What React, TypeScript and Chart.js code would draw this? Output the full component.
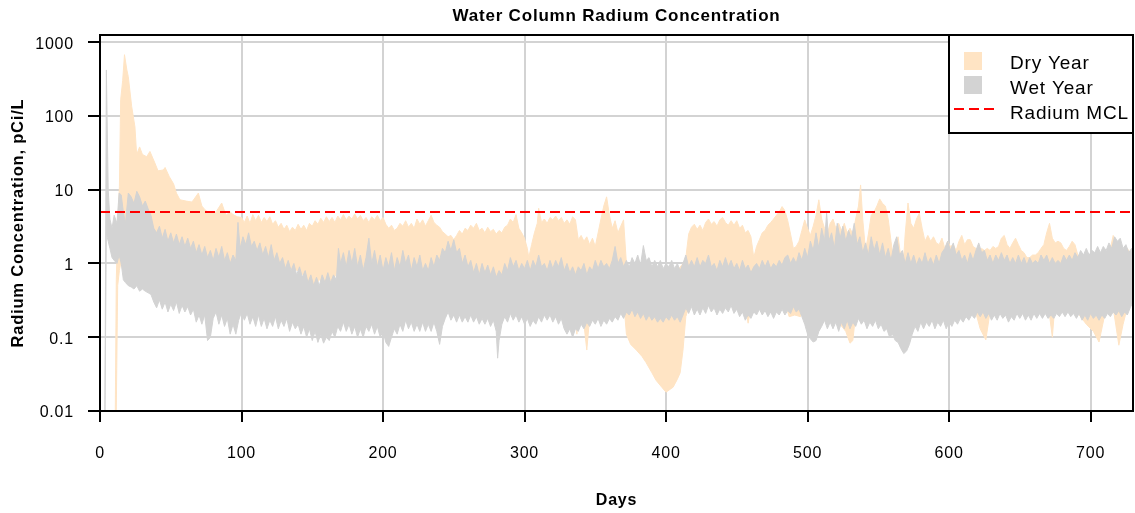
import React, { useEffect, useRef } from "react";
import { Chart, registerables } from "chart.js";

Chart.register(...registerables);

// ---------- text ----------
const TITLE = "Water Column Radium Concentration";
const X_TITLE = "Days";
const Y_TITLE = "Radium Concentration, pCi/L";
const legendLabels = ["Dry Year", "Wet Year", "Radium MCL"];

// ---------- axes ----------
const xTicks = [0, 100, 200, 300, 400, 500, 600, 700];
const yTicks = [0.01, 0.1, 1, 10, 100, 1000];
const yTickLabels = ["0.01", "0.1", "1", "10", "100", "1000"];
const X_MIN = 0;
const X_MAX = 730;
const Y_MIN = 0.01;
const Y_MAX = 1250;
const MCL = 5;

// ---------- Wet year: upper edge ----------
const wetHighDays = [
  3.5, 4.5, 5.8, 7, 8.5, 10, 12, 13.5, 15, 16.5,
  18, 20, 22, 24, 26, 28, 30, 32, 34, 36,
  38, 40, 42, 44, 46, 48, 50, 52, 54, 56,
  58, 60, 62, 64, 66, 68, 70, 72, 74, 76,
  78, 80, 82, 84, 86, 88, 90, 92, 94, 96,
  97.5, 99, 101, 103, 105, 107, 109, 111, 113, 115,
  117, 119, 121, 123, 125, 127, 129, 131, 133, 135,
  137, 139, 141, 143, 145, 147, 149, 151, 153, 155,
  157, 159, 161, 163, 165, 167, 168.5, 170, 172, 174,
  176, 178, 180, 182, 184, 186, 188, 190, 192, 194,
  196, 198, 200, 202, 204, 206, 208, 210, 212, 214,
  216, 218, 220, 222, 224, 226, 228, 230, 232, 234,
  236, 238, 240, 242, 244, 246, 248, 250, 252, 254,
  256, 258, 260, 262, 264, 266, 268, 270, 272, 274,
  276, 278, 280, 282, 284, 286, 288, 290, 292, 294,
  296, 298, 300, 302, 304, 306, 308, 310, 312, 314,
  316, 318, 320, 322, 324, 326, 328, 330, 332, 334,
  336, 338, 340, 342, 344, 346, 348, 350, 352, 354,
  356, 358, 360, 362, 364, 366, 368, 370, 372, 374,
  376, 378, 380, 382, 384, 386, 388, 390, 392, 394,
  396, 398, 400, 402, 404, 406, 408, 410, 412, 414,
  416, 418, 420, 422, 424, 426, 428, 430, 432, 434,
  436, 438, 440, 442, 444, 446, 448, 450, 452, 454,
  456, 458, 460, 462, 464, 466, 468, 470, 472, 474,
  476, 478, 480, 482, 484, 486, 488, 490, 492, 494,
  496, 498, 500, 502, 504, 506, 508, 510, 512, 513.5,
  515, 517, 519, 521, 523, 525, 527, 529, 531, 533,
  535, 537, 539, 541, 543, 545, 547, 549, 551, 553,
  555, 557, 559, 561, 563, 565, 567, 569, 571, 573,
  575, 577, 579, 581, 583, 585, 587, 589, 591, 593,
  595, 597, 599, 601, 603, 605, 607, 609, 611, 613,
  615, 617, 619, 621, 623, 625, 627, 629, 631, 633,
  635, 637, 639, 641, 643, 645, 647, 649, 651, 653,
  655, 657, 659, 661, 663, 665, 667, 669, 671, 673,
  675, 677, 679, 681, 683, 685, 687, 689, 691, 693,
  695, 697, 699, 701, 703, 705, 707, 709, 711, 713,
  715, 717, 719, 721, 723, 725, 727, 729, 730,
];
const wetHigh = [
  0.01, 420, 10, 4.0, 3.0, 4.5, 3.5, 9.0, 8.5, 5.0,
  3.5, 9.0, 8.0, 6.5, 9.5, 8.0, 6.0, 7.0, 5.5, 4.5,
  3.0, 2.6, 3.2, 2.2, 2.9, 2.0, 2.6, 1.9, 2.5, 1.8,
  2.3, 1.7, 2.2, 1.6, 2.0, 1.4, 1.8, 1.3, 1.7, 1.2,
  1.5, 1.1, 1.6, 1.2, 1.7, 1.1, 1.4, 1.0, 1.3, 1.1,
  3.6, 1.6, 2.3, 1.8, 2.6, 1.7, 2.0, 1.5, 1.9, 1.3,
  1.7, 1.2, 1.8, 1.1, 1.4, 1.0, 1.2, 0.85, 1.1, 0.8,
  1.0, 0.7, 0.9, 0.65, 0.8, 0.55, 0.7, 0.5, 0.65, 0.5,
  0.7, 0.55, 0.75, 0.55, 0.7, 0.6, 1.6, 1.0, 1.4, 0.9,
  1.5, 1.0, 1.6, 0.9, 1.3, 0.8, 1.2, 2.2, 1.0, 1.5,
  0.9, 1.3, 0.8, 1.2, 0.9, 1.4, 0.8, 1.2, 0.9, 1.5,
  1.0, 1.3, 0.8, 1.2, 0.9, 1.3, 0.8, 1.0, 0.8, 1.2,
  0.9, 1.3, 1.1, 1.6, 1.4, 2.0, 1.5, 2.1, 1.4, 1.6,
  1.0, 1.3, 0.9, 1.1, 0.75, 1.0, 0.7, 1.0, 0.75, 0.95,
  0.7, 0.9, 0.65, 0.8, 0.7, 1.0, 0.8, 1.2, 0.9, 1.1,
  0.8, 1.0, 0.85, 1.1, 0.8, 1.1, 0.9, 1.3, 0.9, 1.0,
  0.8, 1.1, 0.85, 1.1, 0.9, 1.2, 0.8, 1.0, 0.75, 0.9,
  0.7, 0.9, 0.8, 1.0, 0.7, 0.9, 0.8, 1.1, 0.85, 1.1,
  0.9, 1.0, 0.85, 1.1, 1.7, 1.0, 1.2, 0.9, 1.1, 0.9,
  1.2, 1.0, 1.3, 0.95, 1.75, 1.1, 1.2, 0.9, 1.1, 0.9,
  1.1, 0.85, 1.0, 0.9, 1.1, 0.85, 1.0, 0.8, 1.0, 1.3,
  0.9, 1.1, 0.9, 1.2, 0.9, 1.1, 1.0, 1.3, 0.9, 1.0,
  0.8, 1.1, 0.9, 1.2, 0.9, 1.1, 0.85, 1.0, 0.8, 1.1,
  0.85, 0.95, 0.75, 0.9, 1.0, 0.85, 1.1, 0.9, 1.1, 0.85,
  1.0, 0.9, 1.1, 0.95, 1.2, 1.3, 1.0, 1.2, 1.0, 1.4,
  1.1, 1.6, 1.2, 2.0, 1.5, 2.6, 1.6, 3.0, 2.0, 4.8,
  2.0, 2.6, 1.6, 3.5, 2.2, 3.2, 2.0, 2.8, 2.2, 3.5,
  1.8, 2.3, 1.4, 1.9, 1.3, 2.3, 1.5, 2.0, 1.3, 1.9,
  1.2, 1.6, 1.1, 1.8, 2.3, 1.3, 1.5, 1.0, 1.4, 1.0,
  1.3, 0.95, 1.2, 1.0, 1.4, 1.0, 1.2, 0.95, 1.3, 1.0,
  1.4, 1.6, 2.0, 1.5, 1.9, 1.3, 1.5, 1.1, 1.3, 1.0,
  1.4, 1.1, 1.5, 1.9, 1.4, 1.5, 1.1, 1.3, 1.0, 1.3,
  1.1, 1.4, 1.1, 1.3, 1.0, 1.2, 1.0, 1.3, 1.0, 1.2,
  0.95, 1.2, 1.0, 1.1, 1.0, 1.3, 1.1, 1.3, 1.0, 1.2,
  1.0, 1.1, 1.0, 1.3, 1.1, 1.3, 1.1, 1.4, 1.2, 1.5,
  1.3, 1.6, 1.3, 1.5, 1.4, 1.7, 1.4, 1.7, 1.5, 1.9,
  1.6, 2.3, 2.0, 2.2, 1.6, 1.8, 1.4, 1.6, 1.0,
];

// ---------- Wet year: lower edge ----------
const wetLowDays = [
  3.5, 4.5, 5.8, 7, 8.5, 10, 12, 13.5, 15, 16.5,
  18, 20, 22, 24, 26, 28, 30, 32, 34, 36,
  38, 40, 42, 44, 46, 48, 50, 52, 54, 56,
  58, 60, 62, 64, 66, 68, 70, 72, 74, 76,
  78, 80, 82, 84, 86, 88, 90, 92, 94, 96,
  98, 100, 102, 104, 106, 108, 110, 112, 114, 116,
  118, 120, 122, 124, 126, 128, 130, 132, 134, 136,
  138, 140, 142, 144, 146, 148, 150, 152, 154, 156,
  158, 160, 162, 164, 166, 168, 170, 172, 174, 176,
  178, 180, 182, 184, 186, 188, 190, 192, 194, 196,
  198, 200, 202, 204, 206, 208, 210, 212, 214, 216,
  218, 220, 222, 224, 226, 228, 230, 232, 234, 236,
  238, 240, 242, 244, 246, 248, 250, 252, 254, 256,
  258, 260, 262, 264, 266, 268, 270, 272, 274, 276,
  278, 280, 281, 282, 284, 286, 288, 290, 292, 294,
  296, 298, 300, 302, 304, 306, 308, 310, 312, 314,
  316, 318, 320, 322, 324, 326, 328, 330, 332, 334,
  336, 338, 340, 342, 344, 346, 348, 350, 352, 354,
  356, 358, 360, 362, 364, 366, 368, 370, 372, 374,
  376, 378, 380, 382, 384, 386, 388, 390, 392, 394,
  396, 398, 400, 402, 404, 406, 408, 410, 412, 414,
  416, 418, 420, 422, 424, 426, 428, 430, 432, 434,
  436, 438, 440, 442, 444, 446, 448, 450, 452, 454,
  456, 458, 460, 462, 464, 466, 468, 470, 472, 474,
  476, 478, 480, 482, 484, 486, 488, 490, 492, 494,
  496, 498, 500, 502, 504, 506, 508, 510, 512, 514,
  516, 518, 520, 522, 524, 526, 528, 530, 532, 534,
  536, 538, 540, 542, 544, 546, 548, 550, 552, 554,
  556, 558, 560, 562, 564, 566, 568, 570, 572, 574,
  576, 578, 580, 582, 584, 586, 588, 590, 592, 594,
  596, 598, 600, 602, 604, 606, 608, 610, 612, 614,
  616, 618, 620, 622, 624, 626, 628, 630, 632, 634,
  636, 638, 640, 642, 644, 646, 648, 650, 652, 654,
  656, 658, 660, 662, 664, 666, 668, 670, 672, 674,
  676, 678, 680, 682, 684, 686, 688, 690, 692, 694,
  696, 698, 700, 702, 704, 706, 708, 710, 712, 714,
  716, 718, 720, 722, 724, 726, 728, 730,
];
const wetLow = [
  0.01, 2.5, 2.0, 1.6, 1.2, 1.1, 1.0, 1.3, 1.0, 0.6,
  0.55, 0.5, 0.48, 0.45, 0.5, 0.42, 0.45, 0.42, 0.4, 0.38,
  0.3, 0.25, 0.32, 0.24, 0.3, 0.22, 0.28, 0.23, 0.3, 0.21,
  0.27, 0.22, 0.26, 0.2, 0.24, 0.16, 0.2, 0.15, 0.2, 0.09,
  0.1, 0.18, 0.22, 0.15, 0.2, 0.14, 0.18, 0.11, 0.15, 0.11,
  0.17, 0.22, 0.17, 0.21, 0.15, 0.19, 0.14, 0.2, 0.14, 0.18,
  0.13, 0.17, 0.14, 0.19, 0.13, 0.17, 0.14, 0.18, 0.12, 0.16,
  0.13, 0.15, 0.11, 0.14, 0.1, 0.13, 0.09, 0.12, 0.085, 0.11,
  0.083, 0.1, 0.09, 0.12, 0.1, 0.14, 0.12, 0.16, 0.12, 0.15,
  0.11, 0.14, 0.1, 0.13, 0.1, 0.14, 0.12, 0.15, 0.11, 0.14,
  0.1, 0.12, 0.085, 0.075, 0.1, 0.13, 0.11, 0.15, 0.12, 0.17,
  0.13, 0.16, 0.12, 0.15, 0.12, 0.16, 0.12, 0.15, 0.12, 0.16,
  0.12, 0.08, 0.14, 0.18, 0.22, 0.17, 0.2, 0.16, 0.2, 0.16,
  0.19, 0.16, 0.2, 0.16, 0.19, 0.15, 0.18, 0.15, 0.18, 0.14,
  0.17, 0.12, 0.052, 0.09, 0.15, 0.19, 0.16, 0.21, 0.17, 0.2,
  0.16, 0.19, 0.15, 0.18, 0.14, 0.17, 0.15, 0.19, 0.16, 0.2,
  0.17, 0.2, 0.16, 0.19, 0.15, 0.18, 0.13, 0.11, 0.13, 0.1,
  0.13, 0.12, 0.15, 0.13, 0.16, 0.14, 0.17, 0.15, 0.18, 0.14,
  0.17, 0.15, 0.18, 0.16, 0.19, 0.17, 0.21, 0.18, 0.22, 0.2,
  0.24, 0.19, 0.22, 0.18, 0.21, 0.17, 0.2, 0.17, 0.19, 0.16,
  0.18, 0.16, 0.19, 0.17, 0.2, 0.17, 0.19, 0.16, 0.2, 0.25,
  0.21, 0.26, 0.2, 0.24, 0.2, 0.25, 0.21, 0.27, 0.22, 0.25,
  0.2, 0.24, 0.21, 0.25, 0.22, 0.27, 0.21, 0.24, 0.19, 0.22,
  0.17, 0.2, 0.18, 0.22, 0.2, 0.24, 0.2, 0.23, 0.19, 0.22,
  0.18, 0.22, 0.2, 0.24, 0.2, 0.23, 0.21, 0.26, 0.22, 0.24,
  0.19, 0.15, 0.11, 0.095, 0.086, 0.09, 0.12, 0.14, 0.17, 0.13,
  0.16, 0.13, 0.16, 0.12, 0.16, 0.13, 0.17, 0.13, 0.16, 0.14,
  0.18, 0.15, 0.17, 0.13, 0.16, 0.14, 0.17, 0.13, 0.15, 0.12,
  0.13, 0.1, 0.11, 0.09, 0.085, 0.07, 0.06, 0.065, 0.08, 0.11,
  0.14, 0.12, 0.16, 0.13, 0.16, 0.14, 0.17, 0.13, 0.16, 0.14,
  0.17, 0.13, 0.16, 0.14, 0.17, 0.15, 0.18, 0.16, 0.19, 0.17,
  0.2, 0.18, 0.22, 0.19, 0.22, 0.18, 0.21, 0.17, 0.2, 0.17,
  0.21, 0.18, 0.2, 0.16, 0.19, 0.17, 0.21, 0.18, 0.21, 0.17,
  0.2, 0.17, 0.21, 0.18, 0.21, 0.18, 0.21, 0.18, 0.2, 0.18,
  0.21, 0.19, 0.22, 0.19, 0.22, 0.19, 0.21, 0.18, 0.21, 0.17,
  0.2, 0.17, 0.21, 0.18, 0.2, 0.17, 0.2, 0.18, 0.21, 0.19,
  0.22, 0.2, 0.23, 0.19, 0.22, 0.2, 0.25, 0.3,
];

// ---------- Dry year: upper edge ----------
const dryHighDays = [
  10.8, 11.5, 12.5, 13.7, 14.6, 16, 17.3, 19, 20, 22.4,
  24.7, 25.9, 28, 30, 33, 35.3, 38.8, 41, 44.7, 46,
  49, 52, 54, 56.5, 61, 65, 69.5, 72, 74, 76,
  78, 82, 86, 89, 92, 94, 97, 100, 102, 104,
  106, 108, 110, 112, 114, 116, 118, 120, 122, 124,
  126, 128, 130, 132, 134, 136, 138, 140, 142, 144,
  146, 148, 150, 152, 154, 156, 158, 160, 162, 164,
  166, 168, 170, 172, 174, 176, 178, 180, 182, 184,
  186, 188, 190, 192, 194, 196, 198, 200, 202, 204,
  206, 208, 210, 212, 214, 216, 218, 220, 222, 224,
  226, 228, 230, 232, 234, 236, 238, 240, 242, 244,
  246, 248, 250, 252, 254, 256, 258, 260, 262, 264,
  266, 268, 270, 272, 274, 276, 278, 280, 282, 284,
  286, 288, 290, 292, 294, 296, 298, 300, 302, 303,
  305, 307, 309, 310, 312, 314, 316, 318, 320, 322,
  324, 326, 328, 330, 332, 334, 336, 338, 340, 342,
  344, 346, 348, 350, 352, 354, 356, 358, 360, 362,
  364, 366, 368, 370, 372, 376, 384, 392, 400, 408,
  412, 414, 416, 418, 420, 422, 424, 426, 428, 430,
  432, 434, 436, 438, 440, 442, 444, 446, 448, 450,
  452, 454, 456, 458, 460, 462, 464, 466, 468, 470,
  472, 474, 476, 478, 480, 482, 484, 486, 488, 490,
  492, 494, 496, 498, 500, 502, 504, 506, 508, 510,
  512, 514, 516, 518, 520, 522, 524, 526, 528, 530,
  532, 534, 536, 537.5, 539, 541, 543, 545, 547, 549,
  551, 553, 555, 557, 559, 560.5, 562, 564, 566, 567.5,
  569, 571, 573, 575, 577, 579, 581, 583, 585, 587,
  589, 591, 593, 595, 597, 599, 601, 603, 605, 607,
  609, 611, 613, 615, 617, 619, 621, 623, 625, 627,
  629, 631, 633, 635, 637, 639, 641, 643, 645, 647,
  649, 651, 653, 655, 657, 659, 661, 663, 665, 667,
  669, 671, 673, 675, 677, 679, 681, 683, 685, 687,
  689, 691, 693, 697, 702, 707, 712, 714, 716, 718,
  720, 723, 726, 730,
];
const dryHigh = [
  0.01, 0.6, 3, 11, 166, 300, 676, 420, 340, 134,
  71, 30, 38, 30, 28, 33, 23, 18, 18.5, 20,
  15, 12, 9, 7.3, 7.0, 6.8, 9.0, 6.0, 5.4, 5.0,
  4.8, 5.0, 6.6, 4.5, 5.0, 4.6, 4.3, 4.2, 3.6, 4.4,
  3.5, 4.6, 3.8, 4.5, 3.6, 4.2, 3.7, 4.3, 3.4, 3.8,
  3.1, 3.5, 2.9, 3.3, 2.7, 3.1, 2.8, 3.4, 2.9, 3.3,
  2.8, 3.5, 3.2, 3.8, 3.4, 4.1, 3.6, 4.3, 3.7, 4.2,
  3.6, 4.4, 3.9, 4.6, 3.9, 4.4, 4.0, 4.7, 4.0, 4.5,
  3.8, 4.2, 3.6, 4.3, 3.9, 4.5, 3.8, 4.2, 3.4, 3.0,
  3.3, 2.8, 3.0, 3.5, 3.2, 3.8, 3.1, 3.5, 3.0, 4.0,
  3.4, 3.9, 3.2, 3.8, 4.5, 3.6, 3.3, 3.1, 2.7, 2.5,
  2.3, 2.4, 2.1, 2.4, 2.8, 2.5, 3.0, 2.8, 3.3, 3.0,
  3.5, 2.8, 3.0, 2.6, 3.1, 2.7, 2.9, 2.5, 2.8, 2.6,
  3.1, 3.3, 4.0, 3.6, 4.6, 3.0, 2.6, 2.2, 1.6, 1.2,
  1.8, 2.6, 3.5, 5.6, 3.6, 4.0, 3.5, 4.2, 3.9, 4.4,
  3.8, 4.2, 3.5, 3.9, 3.4, 4.3, 3.9, 2.1, 2.4, 2.0,
  2.3, 1.8, 2.2, 1.7, 2.6, 4.0, 6.0, 8.0, 4.5, 3.0,
  3.8, 2.6, 3.2, 3.9, 1.0, 0.8, 0.8, 0.8, 0.7, 0.8,
  1.0, 1.2, 2.5, 3.1, 3.4, 2.9, 3.3, 2.8, 3.6, 4.0,
  3.4, 3.7, 3.2, 3.9, 4.2, 3.6, 3.3, 3.8, 3.3, 3.8,
  3.0, 3.3, 2.6, 2.8, 2.3, 1.2, 1.7, 2.1, 2.6, 2.8,
  3.3, 3.6, 4.0, 4.5, 5.0, 5.9, 5.2, 3.8, 2.5, 1.6,
  1.7, 2.0, 2.8, 3.9, 3.0, 2.4, 3.2, 4.5, 7.3, 4.0,
  3.0, 2.5, 3.5, 4.0, 3.0, 3.5, 2.8, 3.5, 2.6, 3.0,
  2.5, 4.0, 6.0, 11.6, 4.0, 1.5, 2.5, 4.5, 5.0, 6.0,
  7.5, 6.5, 6.0, 4.0, 2.0, 1.2, 1.8, 2.3, 1.2, 0.9,
  2.5, 6.6, 3.5, 3.0, 4.0, 4.8, 3.0, 2.0, 2.4, 2.0,
  2.3, 1.9, 1.8, 2.2, 1.6, 2.0, 1.7, 1.8, 1.5, 2.0,
  2.4, 1.8, 2.1, 2.1, 1.7, 1.6, 1.5, 1.6, 1.5, 1.6,
  1.5, 1.7, 1.6, 1.7, 2.2, 2.4, 1.8, 1.6, 1.9, 2.2,
  1.8, 1.5, 1.4, 1.2, 1.2, 1.3, 1.3, 1.4, 1.6, 1.8,
  2.6, 3.5, 2.2, 1.9, 2.0, 1.9, 1.6, 1.5, 1.7, 2.0,
  1.8, 1.3, 1.2, 1.1, 1.2, 1.0, 1.1, 1.6, 2.4, 1.8,
  1.5, 1.4, 1.6, 1.2,
];

// ---------- Dry year: lower edge ----------
const dryLowDays = [
  10.8, 11.5, 12.5, 13.7, 14.6, 16, 17.3, 19, 20, 22.4,
  24.7, 25.9, 28, 30, 33, 35.3, 38.8, 41, 44.7, 46,
  49, 52, 54, 56.5, 61, 65, 69.5, 72, 74, 76,
  78, 82, 86, 89, 92, 94, 97, 100, 105, 110,
  115, 120, 125, 130, 135, 140, 145, 150, 155, 160,
  165, 170, 175, 180, 185, 190, 195, 200, 205, 210,
  215, 220, 225, 230, 235, 240, 245, 250, 255, 260,
  265, 270, 275, 280, 285, 290, 293, 297, 300, 303,
  307, 310, 315, 320, 325, 330, 335, 337, 339, 344,
  348, 351, 355, 358, 362, 366, 370, 372, 375, 379,
  383, 386, 390, 393, 397, 400, 405, 408, 410, 412,
  414, 417, 420, 425, 430, 435, 440, 445, 450, 455,
  458, 460, 462, 466, 470, 475, 480, 483, 487, 491,
  495, 499, 503, 509, 513, 518, 523, 527, 530, 532,
  535, 538, 541, 546, 549, 552, 555, 558, 560, 564,
  567, 571, 575, 579, 583, 588, 593, 598, 603, 609,
  615, 618, 622, 626, 630, 635, 638, 643, 647, 652,
  657, 662, 667, 671, 673, 675, 678, 683, 688, 692,
  697, 702, 706, 710, 716, 720, 723, 727, 730,
];
const dryLow = [
  0.01, 0.01, 0.5, 0.8, 1.0, 1.2, 1.3, 1.2, 1.2, 1.2,
  1.3, 1.3, 1.2, 1.1, 1.0, 1.0, 0.9, 0.8, 0.8, 0.8,
  0.7, 0.7, 0.7, 0.7, 0.6, 0.6, 0.6, 0.7, 0.6, 0.4,
  0.8, 0.8, 0.8, 0.85, 0.6, 0.44, 0.8, 1.2, 1.5, 1.2,
  1.0, 1.1, 0.9, 0.8, 0.85, 0.8, 0.65, 0.44, 0.6, 0.55,
  0.6, 1.0, 0.9, 1.0, 0.8, 1.2, 0.9, 0.8, 0.9, 0.8,
  1.0, 0.8, 0.9, 0.7, 0.8, 1.0, 1.3, 1.4, 0.9, 0.8,
  0.6, 0.7, 0.6, 0.55, 0.6, 0.8, 0.7, 0.7, 0.6, 0.7,
  0.8, 0.9, 0.7, 0.8, 0.7, 0.6, 0.5, 0.11, 0.5, 0.067,
  0.5, 0.6, 0.6, 0.7, 0.6, 0.5, 0.32, 0.11, 0.08, 0.067,
  0.055, 0.045, 0.033, 0.026, 0.021, 0.018, 0.021, 0.027, 0.033, 0.067,
  0.19, 0.3, 0.35, 0.4, 0.45, 0.4, 0.45, 0.4, 0.4, 0.35,
  0.155, 0.25, 0.35, 0.4, 0.35, 0.4, 0.4, 0.35, 0.19, 0.2,
  0.19, 0.3, 0.3, 0.35, 0.3, 0.2, 0.15, 0.12, 0.083, 0.09,
  0.3, 0.3, 0.3, 0.3, 0.3, 0.3, 0.3, 0.3, 0.3, 0.3,
  0.3, 0.3, 0.3, 0.25, 0.3, 0.3, 0.3, 0.3, 0.3, 0.3,
  0.3, 0.25, 0.13, 0.092, 0.3, 0.3, 0.3, 0.3, 0.3, 0.3,
  0.3, 0.3, 0.3, 0.2, 0.1, 0.3, 0.3, 0.3, 0.3, 0.2,
  0.15, 0.12, 0.086, 0.2, 0.25, 0.078, 0.15, 0.3, 0.3,
];

// ---------- styles ----------
const FONT = "'Liberation Sans', Arial, Helvetica, sans-serif";
const DRY_COLOR = "#FFE4C4";
const WET_COLOR = "#D3D3D3";
const MCL_COLOR = "#FF0000";
const GRID_COLOR = "#D3D3D3";

function pts(xs: number[], ys: number[]) {
  const n = Math.min(xs.length, ys.length);
  const out: { x: number; y: number }[] = [];
  for (let i = 0; i < n; i++) out.push({ x: xs[i], y: ys[i] });
  return out;
}

const framePlugin = {
  id: "rFrame",
  beforeDraw(chart: any) {
    chart.ctx.letterSpacing = "0.8px";
  },
  afterDatasetsDraw(chart: any) {
    const { ctx, chartArea: a } = chart;
    ctx.save();
    ctx.strokeStyle = "#000";
    ctx.lineWidth = 2;
    ctx.strokeRect(a.left, a.top, a.right - a.left, a.bottom - a.top);
    ctx.restore();
  },
  afterDraw(chart: any) {
    const { ctx, chartArea: a } = chart;
    const w = 184;
    const h = 98;
    const L = a.right - w;
    const T = a.top;
    ctx.save();
    ctx.fillStyle = "#fff";
    ctx.fillRect(L, T, w, h);
    ctx.strokeStyle = "#000";
    ctx.lineWidth = 2;
    ctx.strokeRect(L, T, w, h);
    ctx.fillStyle = DRY_COLOR;
    ctx.fillRect(L + 15, T + 17, 18, 18);
    ctx.fillStyle = WET_COLOR;
    ctx.fillRect(L + 15, T + 41, 18, 18);
    ctx.strokeStyle = MCL_COLOR;
    ctx.lineWidth = 2;
    ctx.setLineDash([10, 5]);
    ctx.beginPath();
    ctx.moveTo(L + 5, T + 74);
    ctx.lineTo(L + 45, T + 74);
    ctx.stroke();
    ctx.setLineDash([]);
    ctx.fillStyle = "#000";
    ctx.font = `19px ${FONT}`;
    ctx.textAlign = "left";
    ctx.textBaseline = "middle";
    legendLabels.forEach((t, i) => ctx.fillText(t, L + 61, T + 29 + i * 25));
    ctx.restore();
  },
};

export default function App() {
  const ref = useRef<HTMLCanvasElement>(null);

  useEffect(() => {
    const canvas = ref.current;
    if (!canvas) return;
    const chart = new Chart(canvas, {
      type: "line",
      data: {
        datasets: [
          {
            label: legendLabels[2],
            data: [
              { x: X_MIN, y: MCL },
              { x: X_MAX, y: MCL },
            ],
            borderColor: MCL_COLOR,
            borderWidth: 2,
            borderDash: [10, 5],
            pointRadius: 0,
            fill: false,
          },
          {
            label: legendLabels[1],
            data: pts(wetHighDays, wetHigh),
            borderColor: WET_COLOR,
            backgroundColor: WET_COLOR,
            borderWidth: 1,
            pointRadius: 0,
            fill: "+1",
          },
          {
            label: legendLabels[1] + " low",
            data: pts(wetLowDays, wetLow),
            borderColor: WET_COLOR,
            backgroundColor: WET_COLOR,
            borderWidth: 1,
            pointRadius: 0,
            fill: false,
          },
          {
            label: legendLabels[0],
            data: pts(dryHighDays, dryHigh),
            borderColor: DRY_COLOR,
            backgroundColor: DRY_COLOR,
            borderWidth: 1,
            pointRadius: 0,
            fill: "+1",
          },
          {
            label: legendLabels[0] + " low",
            data: pts(dryLowDays, dryLow),
            borderColor: DRY_COLOR,
            backgroundColor: DRY_COLOR,
            borderWidth: 1,
            pointRadius: 0,
            fill: false,
          },
        ],
      },
      options: {
        responsive: false,
        devicePixelRatio: 1,
        animation: false,
        events: [],
        layout: { padding: { top: 0, right: 2, bottom: 0, left: 0 } },
        plugins: {
          legend: { display: false },
          tooltip: { enabled: false },
          title: {
            display: true,
            text: TITLE,
            fullSize: false,
            color: "#000",
            font: { family: FONT, size: 17, weight: "bold" },
            padding: { top: 6, bottom: 8.6 },
          },
        },
        scales: {
          x: {
            type: "linear",
            min: X_MIN,
            max: X_MAX,
            afterBuildTicks: (s: any) => {
              s.ticks = xTicks.map((v) => ({ value: v }));
            },
            afterFit: (s: any) => {
              s.height = 102;
            },
            grid: {
              color: GRID_COLOR,
              lineWidth: 2,
              drawTicks: true,
              tickLength: 11,
              tickColor: "#000",
              tickWidth: 2,
            },
            border: { display: true, color: "#000", width: 2 },
            ticks: {
              color: "#000",
              font: { family: FONT, size: 16 },
              padding: 22,
              maxRotation: 0,
              autoSkip: false,
              callback: (v: any) => String(v),
            },
            title: {
              display: true,
              text: X_TITLE,
              color: "#000",
              font: { family: FONT, size: 16, weight: "bold" },
              padding: { top: 0, bottom: 2.7 },
            },
          },
          y: {
            type: "logarithmic",
            min: Y_MIN,
            max: Y_MAX,
            afterBuildTicks: (s: any) => {
              s.ticks = yTicks.map((v) => ({ value: v }));
            },
            afterFit: (s: any) => {
              s.width = 100;
            },
            grid: {
              color: GRID_COLOR,
              lineWidth: 2,
              drawTicks: true,
              tickLength: 12,
              tickColor: "#000",
              tickWidth: 2,
            },
            border: { display: true, color: "#000", width: 2 },
            ticks: {
              color: "#000",
              font: { family: FONT, size: 16 },
              padding: 14,
              labelOffset: 2,
              autoSkip: false,
              callback: (v: any) => {
                const k = yTicks.indexOf(Number(v));
                return k >= 0 ? yTickLabels[k] : "";
              },
            },
            title: {
              display: true,
              text: Y_TITLE,
              color: "#000",
              font: { family: FONT, size: 16.5, weight: "bold" },
              padding: { top: 8.5, bottom: 0 },
            },
          },
        },
      } as any,
      plugins: [framePlugin],
    });
    return () => chart.destroy();
  }, []);

  return (
    <div
      style={{
        position: "fixed",
        left: 0,
        top: 0,
        width: 1135,
        height: 513,
        background: "#fff",
      }}
    >
      <canvas
        ref={ref}
        width={1135}
        height={513}
        style={{ width: 1135, height: 513, display: "block" }}
      />
    </div>
  );
}
